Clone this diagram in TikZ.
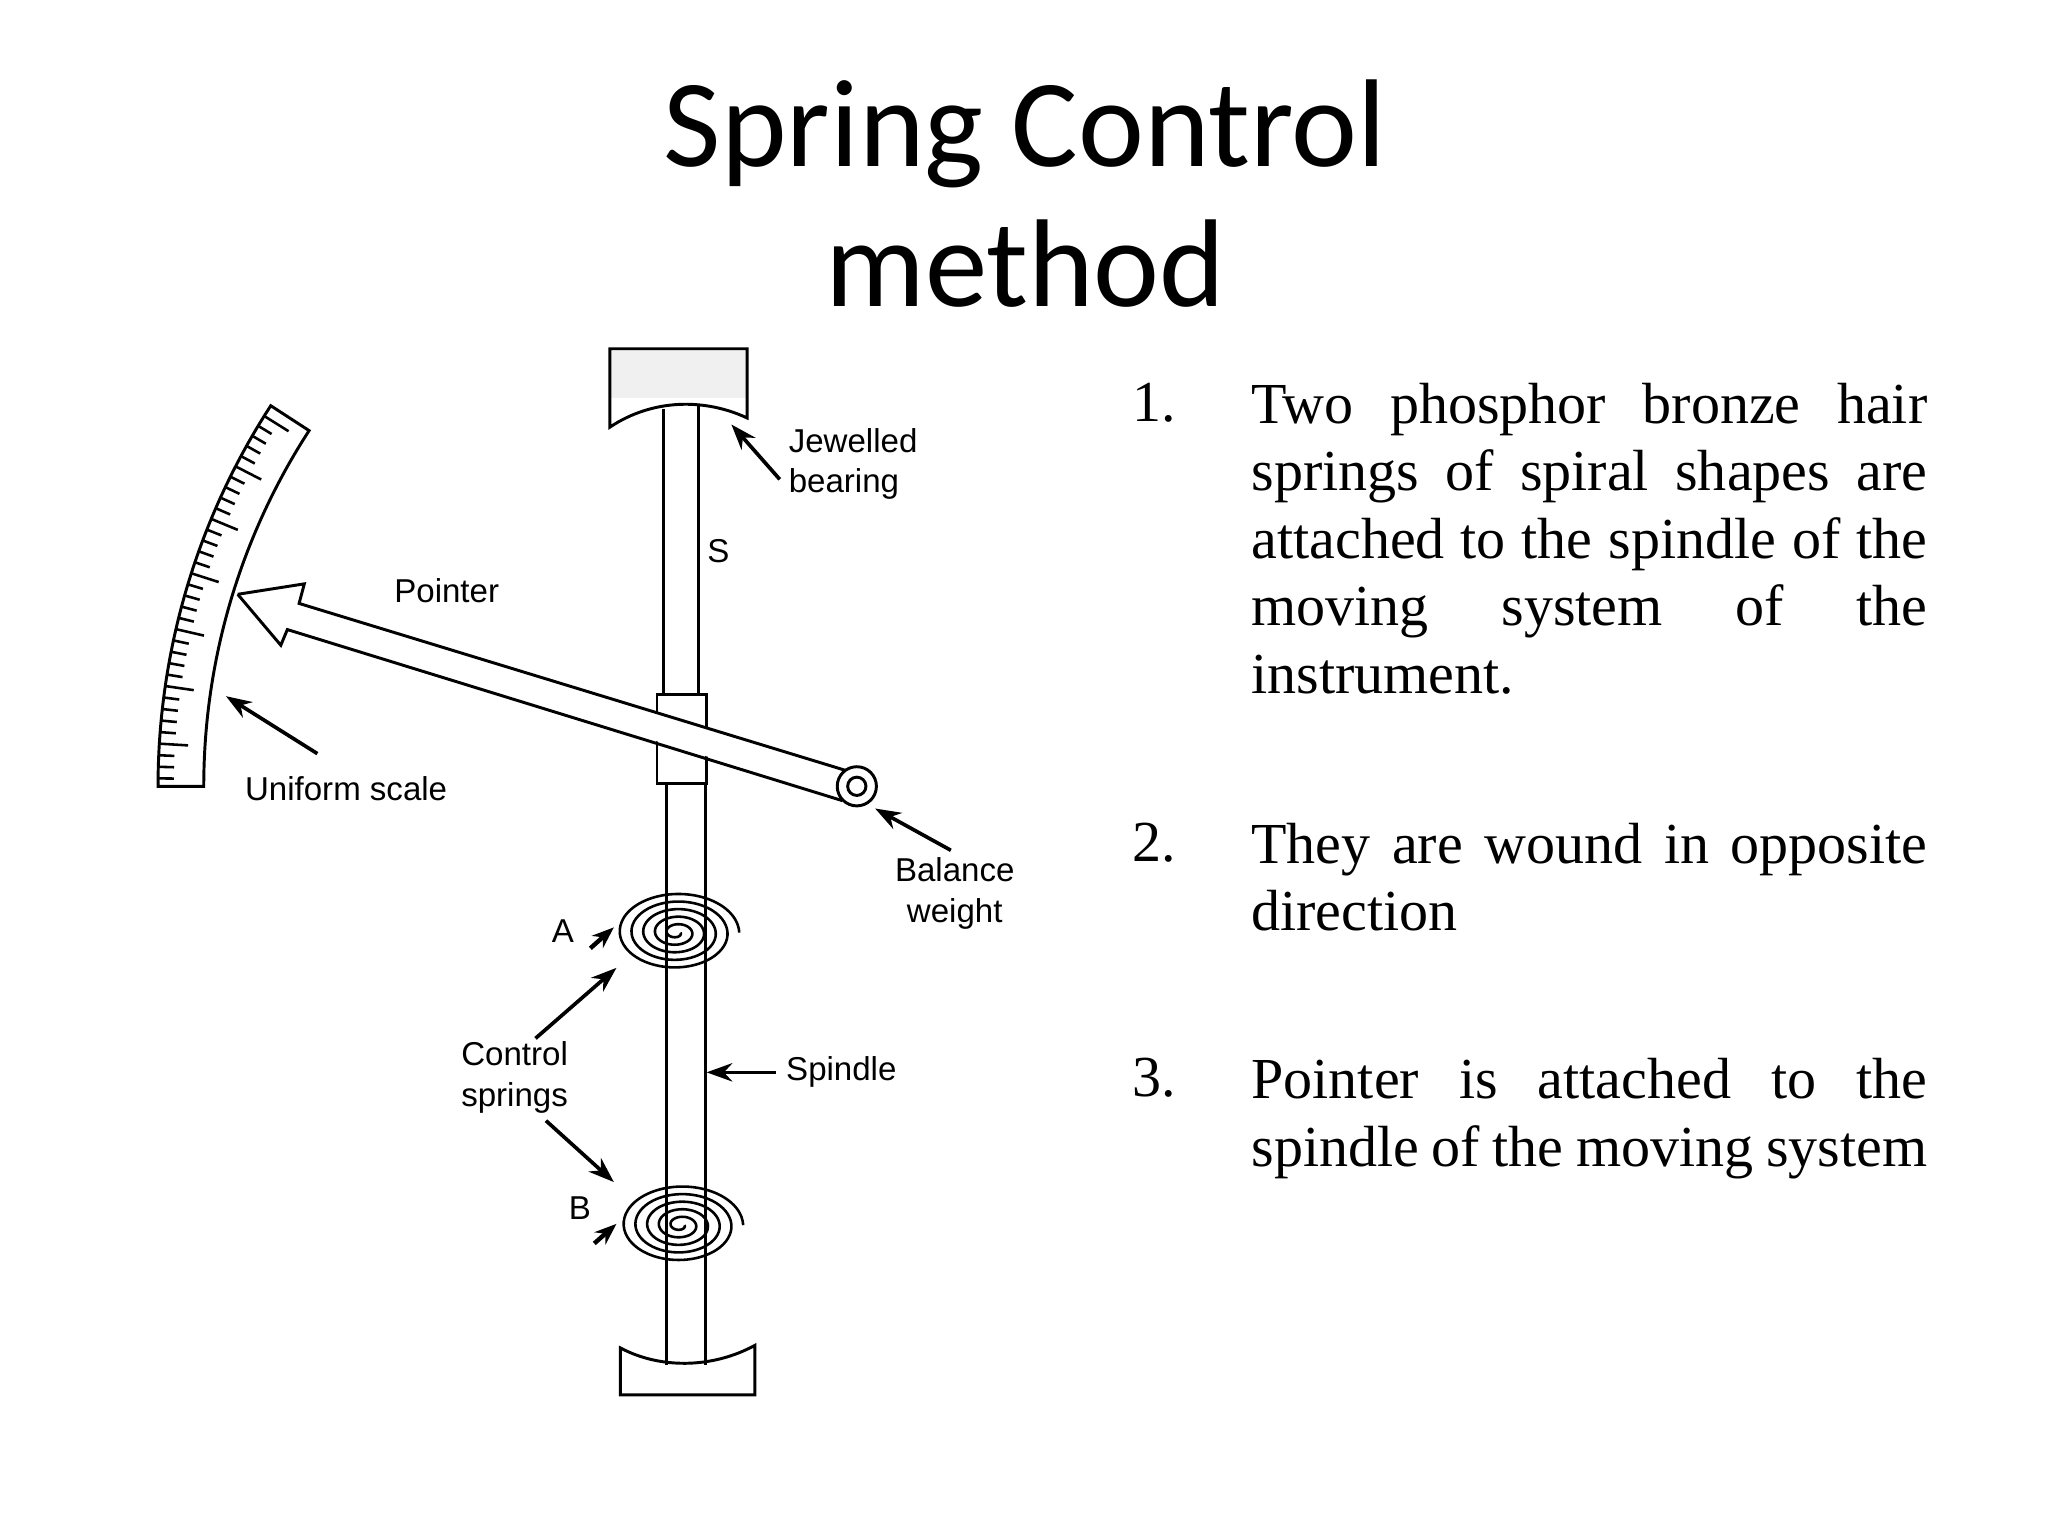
\documentclass[tikz,border=0pt]{standalone}
\usepackage{fontspec}
\setmainfont{Liberation Serif}
\newfontfamily\titlefont{Carlito}
\newfontfamily\lblfont{Liberation Sans}
\usetikzlibrary{arrows.meta}
\newcommand\nohyph{\hyphenpenalty=10000\relax\exhyphenpenalty=10000\relax}
\begin{document}
\begin{tikzpicture}[x=0.0125cm,y=-0.0125cm,line width=0.8pt,
  lbl/.style={font=\lblfont\fontsize{9}{11}\selectfont,align=center,inner sep=1pt},
  callout/.style={-{Stealth[length=7pt,width=5pt]},line width=1pt},
  item/.style={anchor=north west,text width=184pt,align=justify,inner sep=0pt,font=\fontsize{15.8}{18.4}\selectfont}]
\useasboundingbox (0,0) rectangle (1568,1176);
% title
\node[font=\titlefont\fontsize{34}{40}\selectfont,align=center] (title) at (785,148) {Spring Control\\[-2pt]method};
% top bearing
\fill[gray!12] (467,267) rectangle (572,305);
\draw (467,267) -- (572,267) -- (572,320) .. controls (540,305) and (500,305) .. (467,327) -- cycle;
% spindle
\draw (508,313) -- (508,532) (535,311) -- (535,532);
\draw (503,532) rectangle (541,600);
\draw (510,600) -- (510,1045) (540,600) -- (540,1045);
% bottom bearing
\draw (475,1068) -- (578,1068) -- (578,1030) .. controls (545,1048) and (505,1048) .. (475,1032) -- cycle;
% pointer
\fill[white] (182,455) -- (233,447) -- (229,462) -- (650,590) -- (650,612) -- (220,482) -- (215,494) -- cycle;
\draw (182,455) -- (233,447) -- (229,462) -- (648,590);
\draw (182,455) -- (215,494) -- (220,482) -- (645,613);
\fill[white] (656,602) circle (15);
\draw (656,602) circle (15) (656,602) circle (7);
% scale
\draw (656,602) ++(-147:500) arc (-147:-180:500) -- ++(-35,0) arc (-180:-147:535) -- cycle;
\foreach \i in {0,...,33}{
  \pgfmathsetmacro\a{-148-\i*0.95}
  \pgfmathsetmacro\l{mod(\i,5)==0 ? 22 : 12}
  \draw[line width=0.7pt] (656,602) ++(\a:535) -- ++(\a:-\l);
}
% springs
\foreach \cx/\cy in {518/714,521/938}{
  \draw[line width=0.7pt,domain=0:1800,samples=300,smooth,variable=\t]
    plot ({\cx+(3+\t/1800*45)*cos(\t)},{\cy+(2+\t/1800*29)*sin(\t)});
}
\draw[-{Stealth[length=6pt]},line width=1.2pt] (452,726) -- (470,710);
\draw[-{Stealth[length=6pt]},line width=1.2pt] (455,952) -- (472,937);
% labels
\node[lbl,align=left,anchor=west] (jb) at (600,355) {Jewelled\\bearing};
\draw[callout] (597,367) -- (560,325);
\node[lbl] (s) at (550,422) {S};
\node[lbl] (pt) at (342,452) {Pointer};
\node[lbl] (us) at (265,604) {Uniform scale};
\draw[callout] (243,577) -- (173,533);
\node[lbl] (bw) at (731,684) {Balance\\weight};
\draw[callout] (728,651) -- (670,619);
\node[lbl] (a) at (431,713) {A};
\node[lbl] (b) at (444,925) {B};
\node[lbl,align=left] (cs) at (394,825) {Control\\springs};
\draw[callout] (410,795) -- (472,741);
\draw[callout] (418,858) -- (470,905);
\node[lbl,anchor=west] (sp) at (598,821) {Spindle};
\draw[callout] (594,821) -- (541,821);
% text
\node[anchor=north west,inner sep=0pt,font=\fontsize{15.8}{18.4}\selectfont] (n1) at (866,292) {1.};
\node[item] (t1) at (957,292) {\nohyph Two phosphor bronze hair springs of spiral shapes are attached to the spindle of the\linebreak moving system of the\linebreak \mbox{instrument.}};
\node[anchor=north west,inner sep=0pt,font=\fontsize{15.8}{18.4}\selectfont] (n2) at (866,629) {2.};
\node[item] (t2) at (957,629) {\nohyph They are wound in opposite direction};
\node[anchor=north west,inner sep=0pt,font=\fontsize{15.8}{18.4}\selectfont] (n3) at (866,809) {3.};
\node[item] (t3) at (957,809) {\nohyph Pointer is attached to the spindle of the moving system};
\end{tikzpicture}
\end{document}
